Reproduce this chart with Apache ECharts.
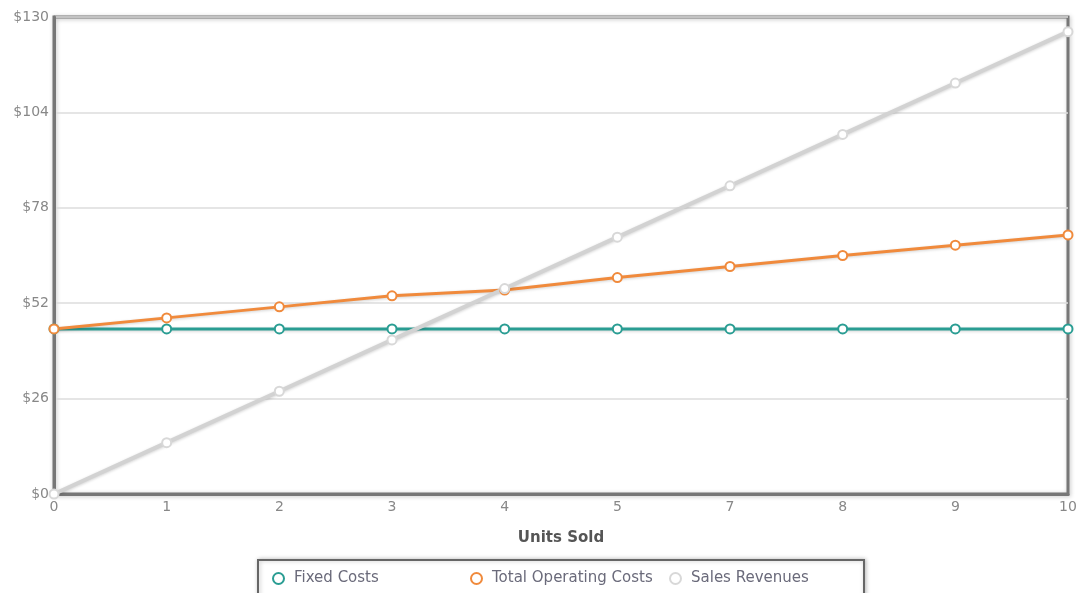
<!DOCTYPE html>
<html>
<head>
<meta charset="utf-8">
<script src="https://cdn.jsdelivr.net/npm/echarts@6/dist/echarts.min.js"></script>
<style>
  html, body { margin: 0; padding: 0; background: #fff; }
  #chart { width: 1089px; height: 593px; }
</style>
</head>
<body>
<div id="chart"></div>
<script>
// Break-even data: units sold vs. costs and revenue
const unitsSold = ['0', '1', '2', '3', '4', '5', '7', '8', '9', '10'];
const fixedCosts = [45, 45, 45, 45, 45, 45, 45, 45, 45, 45];
const totalOperatingCosts = [45, 48, 51, 54, 55.6, 59, 62, 65, 67.8, 70.6];
const salesRevenues = [0, 14, 28, 42, 56, 70, 84, 98, 112, 126];
const yTicks = { min: 0, max: 130, step: 26 };

const seriesNames = ['Fixed Costs', 'Total Operating Costs', 'Sales Revenues'];
const seriesColors = ['#2a9d93', '#f08a3c', '#d2d2d2'];
const markerBorders = ['#2a9d93', '#f08a3c', '#d8d8d8'];
const legendLeft = [272, 470, 669];

const labelFont = '"DejaVu Sans", Verdana, sans-serif';

function lineSeries(i, data, width) {
  return {
    name: seriesNames[i],
    type: 'line',
    data: data,
    symbol: 'circle',
    symbolSize: 9,
    showSymbol: true,
    lineStyle: {
      color: seriesColors[i],
      width: width,
      shadowColor: 'rgba(0,0,0,0.18)',
      shadowBlur: 3,
      shadowOffsetY: 1
    },
    itemStyle: {
      color: '#ffffff',
      borderColor: markerBorders[i],
      borderWidth: 2
    },
    emphasis: { disabled: true },
    animation: false
  };
}

// one legend per entry so the entries sit at fixed positions inside the box
const legends = seriesNames.map(function (name, i) {
  return {
    left: legendLeft[i],
    top: 571,
    padding: 0,
    icon: 'circle',
    itemWidth: 11,
    itemHeight: 11,
    itemGap: 0,
    selectedMode: false,
    textStyle: {
      fontFamily: labelFont,
      fontSize: 15,
      color: '#6a6a7a',
      padding: [0, 0, 0, 5]
    },
    data: [{
      name: name,
      itemStyle: { color: '#ffffff', borderColor: markerBorders[i], borderWidth: 2 }
    }]
  };
});

const chart = echarts.init(document.getElementById('chart'), null, { renderer: 'canvas' });
chart.setOption({
  backgroundColor: '#ffffff',
  animation: false,
  graphic: [{
    type: 'rect',
    left: 257,
    top: 559,
    shape: { width: 606, height: 60 },
    style: {
      fill: '#ffffff',
      stroke: '#666666',
      lineWidth: 2,
      shadowColor: 'rgba(0,0,0,0.25)',
      shadowBlur: 4,
      shadowOffsetX: 1
    },
    z: -1
  }],
  grid: {
    left: 54,
    right: 21,
    top: 17,
    bottom: 99,
    show: true,
    borderColor: '#777777',
    borderWidth: 3,
    shadowColor: 'rgba(0,0,0,0.25)',
    shadowBlur: 4,
    shadowOffsetX: 1,
    shadowOffsetY: 1
  },
  legend: legends,
  xAxis: {
    type: 'category',
    data: unitsSold,
    boundaryGap: false,
    name: 'Units Sold',
    nameLocation: 'middle',
    nameGap: 37,
    nameTextStyle: {
      fontFamily: labelFont,
      fontSize: 15,
      fontWeight: 'bold',
      color: '#555555'
    },
    axisLine: { show: true, lineStyle: { color: '#777777', width: 3 } },
    axisTick: { show: false },
    axisLabel: {
      fontFamily: labelFont,
      fontSize: 14,
      color: '#888888',
      margin: 6
    },
    splitLine: { show: false }
  },
  yAxis: {
    type: 'value',
    min: yTicks.min,
    max: yTicks.max,
    interval: yTicks.step,
    axisLine: { show: true, lineStyle: { color: '#777777', width: 3 } },
    axisTick: { show: false },
    axisLabel: {
      fontFamily: labelFont,
      fontSize: 14,
      color: '#888888',
      margin: 5,
      formatter: function (v) { return '$' + v; }
    },
    splitLine: { show: true, lineStyle: { color: '#dddddd', width: 1.5 } }
  },
  series: [
    lineSeries(0, fixedCosts, 3),
    lineSeries(1, totalOperatingCosts, 3),
    lineSeries(2, salesRevenues, 4)
  ]
});
</script>
</body>
</html>
